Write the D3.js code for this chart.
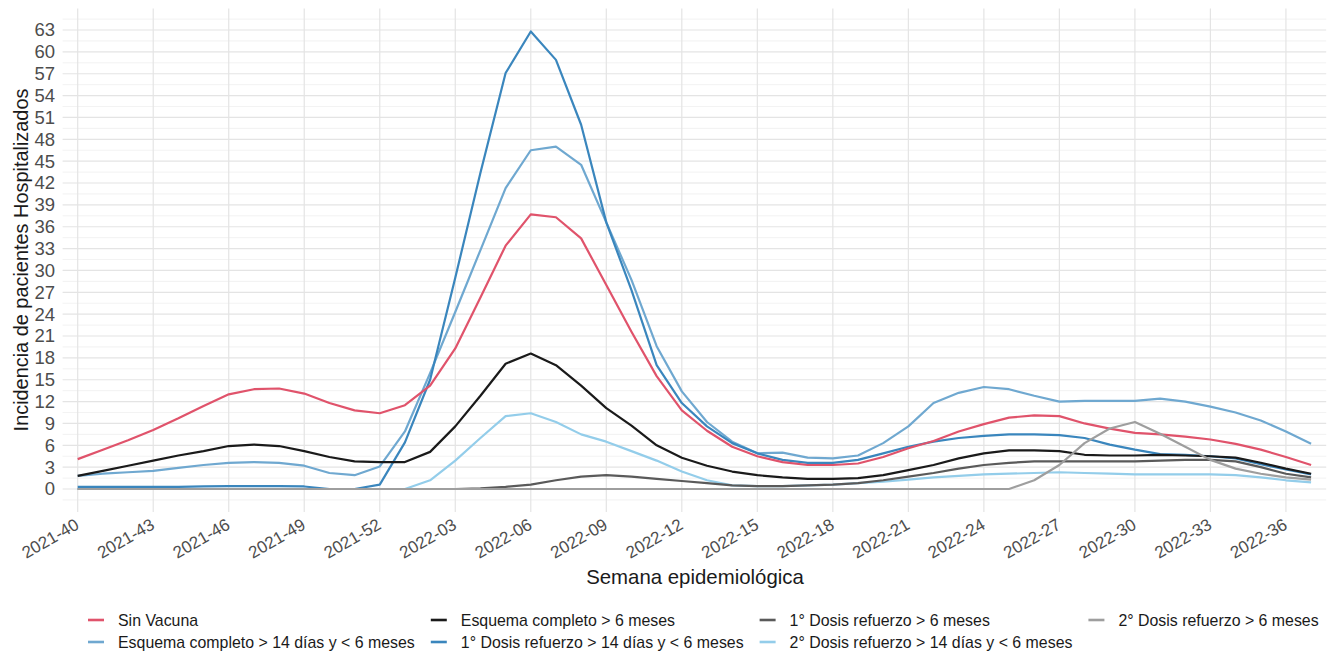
<!DOCTYPE html>
<html>
<head>
<meta charset="utf-8">
<script src="https://cdn.jsdelivr.net/npm/d3@7"></script>
<style>
  body { margin: 0; background: #fff; }
  svg { display: block; font-family: "Liberation Sans", Arial, sans-serif; }
</style>
</head>
<body>
<svg id="chart" width="1333" height="654"></svg>
<script>
const weeks = [
  "2021-40","2021-41","2021-42","2021-43","2021-44","2021-45","2021-46","2021-47","2021-48","2021-49",
  "2021-50","2021-51","2021-52","2022-01","2022-02","2022-03","2022-04","2022-05","2022-06","2022-07",
  "2022-08","2022-09","2022-10","2022-11","2022-12","2022-13","2022-14","2022-15","2022-16","2022-17",
  "2022-18","2022-19","2022-20","2022-21","2022-22","2022-23","2022-24","2022-25","2022-26","2022-27",
  "2022-28","2022-29","2022-30","2022-31","2022-32","2022-33","2022-34","2022-35","2022-36","2022-37"
];
const xTickLabels = ["2021-40","2021-43","2021-46","2021-49","2021-52","2022-03","2022-06","2022-09",
  "2022-12","2022-15","2022-18","2022-21","2022-24","2022-27","2022-30","2022-33","2022-36"];
const yTicks = [0,3,6,9,12,15,18,21,24,27,30,33,36,39,42,45,48,51,54,57,60,63];

const seriesNames = [
  "Sin Vacuna",
  "Esquema completo > 14 días y < 6 meses",
  "Esquema completo > 6 meses",
  "1° Dosis refuerzo > 14 días y < 6 meses",
  "1° Dosis refuerzo > 6 meses",
  "2° Dosis refuerzo > 14 días y < 6 meses",
  "2° Dosis refuerzo > 6 meses"
];
const seriesColors = ["#E0536B", "#6FA8D0", "#1a1a1a", "#3A86BD", "#5a5a5a", "#93CDEA", "#9e9e9e"];

const sinVacuna = [4.1,5.4,6.7,8.1,9.7,11.4,13.0,13.7,13.8,13.1,
  11.8,10.8,10.4,11.5,14.2,19.3,26.3,33.4,37.7,37.3,
  34.4,28.0,21.6,15.5,10.8,8.0,5.8,4.5,3.7,3.3,
  3.3,3.5,4.4,5.6,6.6,7.9,8.9,9.8,10.1,10.0,
  9.0,8.3,7.7,7.5,7.2,6.8,6.2,5.4,4.4,3.3];
const esqCompleto14d = [1.8,2.1,2.3,2.5,2.9,3.3,3.6,3.7,3.6,3.2,
  2.2,1.9,3.1,7.9,15.9,24.3,32.8,41.3,46.5,47.0,
  44.5,36.6,28.7,19.6,13.4,9.2,6.5,4.9,5.0,4.3,
  4.2,4.6,6.3,8.6,11.8,13.2,14.0,13.7,12.8,12.0,
  12.1,12.1,12.1,12.4,12.0,11.3,10.5,9.4,7.9,6.2];
const esqCompleto6m = [1.8,2.5,3.2,3.9,4.6,5.2,5.9,6.1,5.9,5.2,
  4.4,3.8,3.7,3.7,5.1,8.6,12.8,17.2,18.6,17.0,
  14.2,11.1,8.7,6.0,4.3,3.2,2.4,1.9,1.6,1.4,
  1.4,1.5,1.9,2.6,3.3,4.2,4.9,5.3,5.3,5.2,
  4.7,4.6,4.6,4.7,4.6,4.5,4.3,3.6,2.8,2.1];
const dosis1_14d = [0.3,0.3,0.3,0.3,0.3,0.35,0.4,0.4,0.4,0.35,
  0,0,0.6,6.4,15.0,29.0,43.4,57.1,62.8,58.9,
  50.0,36.6,27.3,17.0,11.8,8.6,6.3,4.9,4.0,3.6,
  3.6,4.0,4.9,5.8,6.5,7.0,7.3,7.5,7.5,7.4,
  7.0,6.1,5.4,4.8,4.7,4.5,4.2,3.4,2.7,2.0];
const dosis1_6m = [0,0,0,0,0,0,0,0,0,0,
  0,0,0,0,0,0,0.1,0.3,0.6,1.2,
  1.7,1.9,1.7,1.4,1.1,0.8,0.5,0.4,0.4,0.5,
  0.6,0.8,1.2,1.7,2.2,2.8,3.3,3.6,3.8,3.8,
  3.8,3.8,3.8,3.9,4.0,4.0,3.8,3.0,2.1,1.6];
const dosis2_14d = [0,0,0,0,0,0,0,0,0,0,
  0,0,0,0,1.2,3.9,7.0,10.0,10.4,9.2,
  7.5,6.5,5.2,3.9,2.4,1.2,0.5,0.4,0.4,0.5,
  0.6,0.8,1.0,1.3,1.6,1.8,2.0,2.1,2.2,2.3,
  2.2,2.1,2.0,2.0,2.0,2.0,1.9,1.6,1.2,0.9];
const dosis2_6m = [0,0,0,0,0,0,0,0,0,0,
  0,0,0,0,0,0,0,0,0,0,
  0,0,0,0,0,0,0,0,0,0,
  0,0,0,0,0,0,0,0,1.2,3.3,
  6.3,8.3,9.2,7.6,5.8,4.0,2.8,2.1,1.6,1.3];

const seriesValues = [sinVacuna, esqCompleto14d, esqCompleto6m, dosis1_14d, dosis1_6m, dosis2_14d, dosis2_6m];

const svg = d3.select("#chart");
const panel = {left: 62.6, right: 1326.2, top: 8.6, bottom: 511.9};

const x = d3.scalePoint().domain(weeks).range([77.7, 1311.1]);
const yMin = -3.14, yMax = 65.94;
const y = d3.scaleLinear().domain([yMin, yMax]).range([panel.bottom, panel.top]);

// grid
const grid = svg.append("g");
const minorY = d3.range(-1.5, 66, 3);
grid.selectAll("line.minor").data(minorY).join("line")
  .attr("x1", panel.left).attr("x2", panel.right)
  .attr("y1", d => y(d)).attr("y2", d => y(d))
  .attr("stroke", "#efefef").attr("stroke-width", 0.8);
grid.selectAll("line.majorY").data(yTicks).join("line")
  .attr("x1", panel.left).attr("x2", panel.right)
  .attr("y1", d => y(d)).attr("y2", d => y(d))
  .attr("stroke", "#e4e4e4").attr("stroke-width", 1.2);
grid.selectAll("line.majorX").data(xTickLabels).join("line")
  .attr("x1", d => x(d)).attr("x2", d => x(d))
  .attr("y1", panel.top).attr("y2", panel.bottom)
  .attr("stroke", "#e4e4e4").attr("stroke-width", 1.2);

// axes (text only, ggplot minimal style)
const yAxis = d3.axisLeft(y).tickValues(yTicks).tickSize(0).tickPadding(7.5);
const gy = svg.append("g").attr("transform", `translate(${panel.left},0)`).call(yAxis);
gy.select(".domain").remove();
gy.selectAll("text").attr("font-size", 18.5).attr("fill", "#4d4d4d")
  .attr("font-family", "Liberation Sans, Arial, sans-serif");

const xAxis = d3.axisBottom(x).tickValues(xTickLabels).tickSize(0).tickPadding(0);
const gx = svg.append("g").attr("transform", `translate(0,${panel.bottom})`).call(xAxis);
gx.select(".domain").remove();
gx.selectAll("text")
  .attr("font-size", 17).attr("fill", "#4d4d4d")
  .attr("font-family", "Liberation Sans, Arial, sans-serif")
  .attr("text-anchor", "end")
  .attr("dy", null).attr("y", null)
  .attr("transform", "translate(2,16) rotate(-30)");

// titles
svg.append("text")
  .attr("x", 695).attr("y", 584)
  .attr("text-anchor", "middle")
  .attr("font-size", 20.4).attr("fill", "#1a1a1a")
  .text("Semana epidemiológica");
svg.append("text")
  .attr("transform", `translate(28,260) rotate(-90)`)
  .attr("text-anchor", "middle")
  .attr("font-size", 19.9).attr("fill", "#1a1a1a")
  .text("Incidencia de pacientes Hospitalizados");

// lines
const line = d3.line().x((d, i) => x(weeks[i])).y(d => y(d));
const drawOrder = [5, 1, 3, 2, 0, 4, 6];
const gl = svg.append("g");
drawOrder.forEach(k => {
  gl.append("path")
    .datum(seriesValues[k])
    .attr("d", line)
    .attr("fill", "none")
    .attr("stroke", seriesColors[k])
    .attr("stroke-width", 2.2)
    .attr("stroke-linejoin", "round");
});

// legend: 2 rows, columns sized to widest label
const legendRows = [[0, 2, 4, 6], [1, 3, 5]];
const rowY = [620, 642];
const legendFont = 15.9;
const lg = svg.append("g");
const measure = lg.append("text").attr("font-size", legendFont).attr("visibility", "hidden");
const textW = seriesNames.map(n => { measure.text(n); return measure.node().getComputedTextLength(); });
measure.remove();
const nCols = 4;
const colW = d3.range(nCols).map(c => d3.max(legendRows, r => r[c] !== undefined ? textW[r[c]] : 0));
const keyLen = 16, keyGap = 30, colGap = 16;
const colX = [];
let cx = 88;
colW.forEach(w => { colX.push(cx); cx += keyGap + w + colGap; });
legendRows.forEach((r, ri) => {
  r.forEach((k, ci) => {
    const gx0 = colX[ci], gy0 = rowY[ri];
    lg.append("line")
      .attr("x1", gx0).attr("x2", gx0 + keyLen)
      .attr("y1", gy0).attr("y2", gy0)
      .attr("stroke", seriesColors[k]).attr("stroke-width", 2.6);
    lg.append("text")
      .attr("x", gx0 + keyGap).attr("y", gy0).attr("dy", "0.35em")
      .attr("font-size", legendFont).attr("fill", "#1a1a1a")
      .text(seriesNames[k]);
  });
});
</script>
</body>
</html>
